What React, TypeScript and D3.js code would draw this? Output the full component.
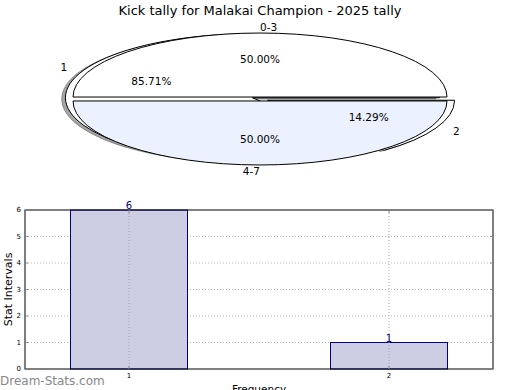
import React from "react";
import * as d3 from "d3";

const title = "Kick tally for Malakai Champion - 2025 tally";
const outerLabels = ["0-3", "4-7"];
const outerValues = [50, 50];
const outerColors = ["#ffffff", "#ebf1fd"];
const innerLabels = ["1", "2"];
const innerValues = [85.71, 14.29];
const innerColors = ["#ffffff", "#ffffff"];

const barCategories = [1, 2];
const barValues = [6, 1];
const yTicks = [0, 1, 2, 3, 4, 5, 6];

const W = 520;
const H = 390;
const font = "DejaVu Sans, sans-serif";

// pie geometry
const cx = 260;
const cy = 99;
const rx = 187;
const ry = 64;

type Slice = { label: string; value: number; color: string; start: number; end: number };

function slices(labels: string[], values: number[], colors: string[]): Slice[] {
  const pie = d3
    .pie<number>()
    .sort(null)
    .startAngle(Math.PI / 2)
    .endAngle(Math.PI / 2 - 2 * Math.PI);
  return pie(values).map((p, i) => ({
    label: labels[i],
    value: values[i],
    color: colors[i],
    start: p.startAngle,
    end: p.endAngle,
  }));
}

const arcGen = d3.arc<any>().innerRadius(0).outerRadius(1);

function PieLayer({
  data,
  explode,
  shadow,
}: {
  data: Slice[];
  explode: number;
  shadow: boolean;
}) {
  const geo = data.map((s) => {
    const mid = (s.start + s.end) / 2;
    const dx = explode * Math.sin(mid) * rx;
    const dy = -explode * Math.cos(mid) * ry;
    const a0 = Math.min(s.start, s.end);
    const a1 = Math.max(s.start, s.end);
    const d = arcGen({ startAngle: a0, endAngle: a1 }) as string;
    return { dx, dy, d, color: s.color };
  });
  return (
    <g>
      {shadow &&
        geo.map((g, i) => (
          <path
            key={"s" + i}
            d={g.d}
            transform={`translate(${cx + g.dx - 3.7},${cy + g.dy + 1.3}) scale(${rx},${ry})`}
            fill="rgba(77,77,77,0.5)"
            stroke="rgba(77,77,77,0.5)"
            strokeWidth={1}
            vectorEffect="non-scaling-stroke"
          />
        ))}
      {geo.map((g, i) => (
        <path
          key={"w" + i}
          d={g.d}
          transform={`translate(${cx + g.dx},${cy + g.dy}) scale(${rx},${ry})`}
          fill={g.color}
          stroke="#000"
          strokeWidth={1}
          vectorEffect="non-scaling-stroke"
        />
      ))}
    </g>
  );
}

function PieLabels({ data, explode }: { data: Slice[]; explode: number }) {
  return (
    <g fontFamily={font} fontSize={10.5} fill="#000">
      {data.map((s, i) => {
        const mid = (s.start + s.end) / 2;
        const sx = Math.sin(mid);
        const cyv = Math.cos(mid);
        const dx = explode * sx * rx;
        const dy = -explode * cyv * ry;
        const lx = cx + dx + 1.1 * sx * rx;
        const ly = cy + dy - 1.1 * cyv * ry;
        const px = cx + dx + 0.6 * sx * rx;
        const py = cy + dy - 0.6 * cyv * ry;
        const anchor = sx > 1e-12 || (Math.abs(sx) < 1e-12 && cyv > 0) ? "start" : "end";
        return (
          <g key={i}>
            <text x={lx} y={ly} textAnchor={anchor} dominantBaseline="central">
              {s.label}
            </text>
            <text x={px} y={py} textAnchor="middle" dominantBaseline="central">
              {s.value.toFixed(2)}%
            </text>
          </g>
        );
      })}
    </g>
  );
}

export default function App() {
  const outer = slices(outerLabels, outerValues, outerColors);
  const inner = slices(innerLabels, innerValues, innerColors);

  // bar chart
  const left = 25;
  const right = 493;
  const top = 210;
  const bottom = 369;
  const x = d3.scaleLinear().domain([0.6, 2.4]).range([left, right]);
  const y = d3.scaleLinear().domain([0, 6]).range([bottom, top]);
  const barW = 0.45;

  return (
    <svg
      width={W}
      height={H}
      viewBox={`0 0 ${W} ${H}`}
      style={{ position: "absolute", left: 0, top: 0, background: "#fff" }}
    >
      <rect x={0} y={0} width={W} height={H} fill="#fff" />
      <text x={260} y={15} textAnchor="middle" fontFamily={font} fontSize={13} fill="#000">
        {title}
      </text>

      <PieLayer data={inner} explode={0.045} shadow={true} />
      <PieLayer data={outer} explode={0.031} shadow={false} />
      <PieLabels data={outer} explode={0.031} />
      <PieLabels data={inner} explode={0.045} />

      {/* bar chart */}
      <g>
        {yTicks.slice(1, -1).map((t) => (
          <line
            key={"gy" + t}
            x1={left}
            x2={right}
            y1={y(t)}
            y2={y(t)}
            stroke="#b8b8b8"
            strokeDasharray="1,2"
            strokeWidth={1}
          />
        ))}
        {barCategories.map((c, i) => (
          <rect
            key={"b" + i}
            x={x(c - barW / 2)}
            y={y(barValues[i])}
            width={x(c + barW / 2) - x(c - barW / 2)}
            height={y(0) - y(barValues[i])}
            fill="#cdcde3"
            stroke="#000080"
            strokeWidth={1}
          />
        ))}
        {barCategories.map((c) => (
          <line
            key={"gx" + c}
            x1={x(c)}
            x2={x(c)}
            y1={top}
            y2={bottom}
            stroke="#a8a8a8"
            strokeDasharray="1,2"
            strokeWidth={1}
          />
        ))}
        <rect x={left} y={top} width={right - left} height={bottom - top} fill="none" stroke="#000" strokeWidth={1} />
        {yTicks.map((t) => (
          <g key={"ty" + t}>
            <line x1={left} x2={left + 3} y1={y(t)} y2={y(t)} stroke="#888" />
            <line x1={right - 3} x2={right} y1={y(t)} y2={y(t)} stroke="#888" />
            <text
              x={left - 4}
              y={y(t)}
              textAnchor="end"
              dominantBaseline="central"
              fontFamily={font}
              fontSize={7}
              fill="#000"
            >
              {t}
            </text>
          </g>
        ))}
        {barCategories.map((c) => (
          <g key={"tx" + c}>
            <line x1={x(c)} x2={x(c)} y1={bottom} y2={bottom - 3} stroke="#888" />
            <line x1={x(c)} x2={x(c)} y1={top} y2={top + 3} stroke="#888" />
            <text x={x(c)} y={bottom + 9} textAnchor="middle" fontFamily={font} fontSize={7} fill="#000">
              {c}
            </text>
          </g>
        ))}
        {barCategories.map((c, i) => (
          <text
            key={"v" + i}
            x={x(c)}
            y={y(barValues[i]) - 1}
            textAnchor="middle"
            fontFamily={font}
            fontSize={10}
            fill="#000080"
          >
            {barValues[i]}
          </text>
        ))}
        <text
          transform={`translate(12,${(top + bottom) / 2}) rotate(-90)`}
          textAnchor="middle"
          fontFamily={font}
          fontSize={11}
          fill="#000"
        >
          Stat Intervals
        </text>
        <text x={259} y={393} textAnchor="middle" fontFamily={font} fontSize={10.5} fill="#000">
          Frequency
        </text>
      </g>
      <text x={0} y={385} fontFamily={font} fontSize={12} fill="#888">
        Dream-Stats.com
      </text>
    </svg>
  );
}
